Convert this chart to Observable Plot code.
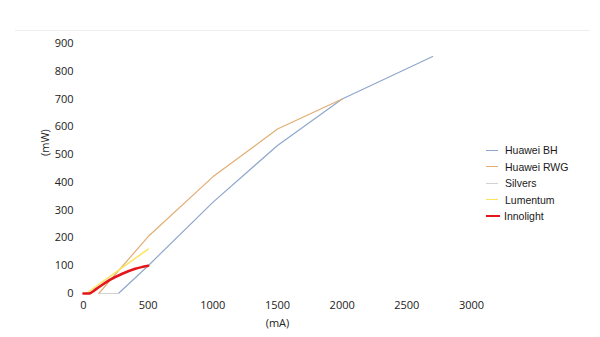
<!DOCTYPE html>
<html>
<head>
<meta charset="utf-8">
<script src="https://cdn.jsdelivr.net/npm/d3@7"></script>
<script src="https://cdn.jsdelivr.net/npm/@observablehq/plot@0.6"></script>
<style>
  html, body { margin: 0; padding: 0; background: #fff; }
  #wrap { position: relative; width: 600px; height: 337px; overflow: hidden; }
  #topline { position: absolute; left: 15px; top: 30px; width: 575px; height: 0; border-top: 1px solid #eeeeee; }
  #legend { position: absolute; left: 486px; top: 142px; font-family: "Liberation Sans", Arial, sans-serif; font-size: 10.5px; color: #1a1a1a; }
  #legend .row { display: flex; align-items: center; height: 16.5px; }
  #legend .sw { width: 12px; margin-right: 7px; }
</style>
</head>
<body>
<div id="wrap">
  <div id="chart"></div>
  <div id="topline"></div>
  <div id="legend"></div>
</div>
<script>
const seriesNames = ["Huawei BH", "Huawei RWG", "Silvers", "Lumentum", "Innolight"];
const seriesColors = ["#8fa7cb", "#e2ad73", "#d2d2d2", "#fde45a", "#e4161c"];
const seriesWidths = [1.2, 1.2, 1.2, 1.5, 2.6];

const bhCurrent = [120, 270, 500, 1000, 1500, 2000, 2700];
const bhPower   = [0, 0, 100, 328, 533, 700, 853];
const rwgCurrent = [118, 500, 1000, 1500, 2000];
const rwgPower   = [0, 205, 420, 592, 700];
const silversCurrent = [120, 270];
const silversPower   = [0, 0];
const lumCurrent = [20, 500];
const lumPower   = [0, 160];
const innoCurrent = [0, 40, 100, 200, 300, 400, 500];
const innoPower   = [0, 0, 17, 48, 71, 89, 100];

const xTicks = [0, 500, 1000, 1500, 2000, 2500, 3000];
const yTicks = [0, 100, 200, 300, 400, 500, 600, 700, 800, 900];

const toRows = (xs, ys) => xs.map((x, i) => ({x, y: ys[i]}));
const series = [
  toRows(bhCurrent, bhPower),
  toRows(rwgCurrent, rwgPower),
  toRows(silversCurrent, silversPower),
  toRows(lumCurrent, lumPower),
  toRows(innoCurrent, innoPower)
];

const marks = series.map((rows, i) =>
  Plot.line(rows, {x: "x", y: "y", stroke: seriesColors[i], strokeWidth: seriesWidths[i],
    curve: i === 4 ? "monotone-x" : "linear", strokeLinejoin: "round", strokeLinecap: "round"})
);

const chart = Plot.plot({
  width: 600,
  height: 337,
  marginLeft: 83,
  marginRight: 129,
  marginTop: 43,
  marginBottom: 44,
  style: {fontFamily: "'Open Sans', 'Noto Sans', sans-serif", fontSize: "11px", color: "#222", background: "#fff"},
  x: {domain: [0, 3000], ticks: xTicks, tickFormat: d => String(d), tickSize: 0, tickPadding: 8, label: null},
  y: {domain: [0, 900], ticks: yTicks, tickFormat: d => String(d), tickSize: 0, tickPadding: 10, label: null},
  marks: [
    ...marks,
    Plot.text(["(mA)"], {frameAnchor: "bottom", dy: 33, fontSize: 11, fill: "#222"}),
    Plot.text(["(mW)"], {frameAnchor: "left", dx: -38, rotate: -90, fontSize: 11, fill: "#222", y: () => 495})
  ]
});
document.getElementById("chart").appendChild(chart);

const legend = document.getElementById("legend");
seriesNames.forEach((name, i) => {
  const row = document.createElement("div");
  row.className = "row";
  const sw = document.createElement("div");
  sw.className = "sw";
  sw.style.borderTop = `${i === 4 ? 2.5 : 1.5}px solid ${seriesColors[i]}`;
  if (i === 4) { sw.style.width = "14px"; sw.style.marginRight = "4px"; }
  const t = document.createElement("span");
  t.textContent = name;
  row.appendChild(sw);
  row.appendChild(t);
  legend.appendChild(row);
});
</script>
</body>
</html>
